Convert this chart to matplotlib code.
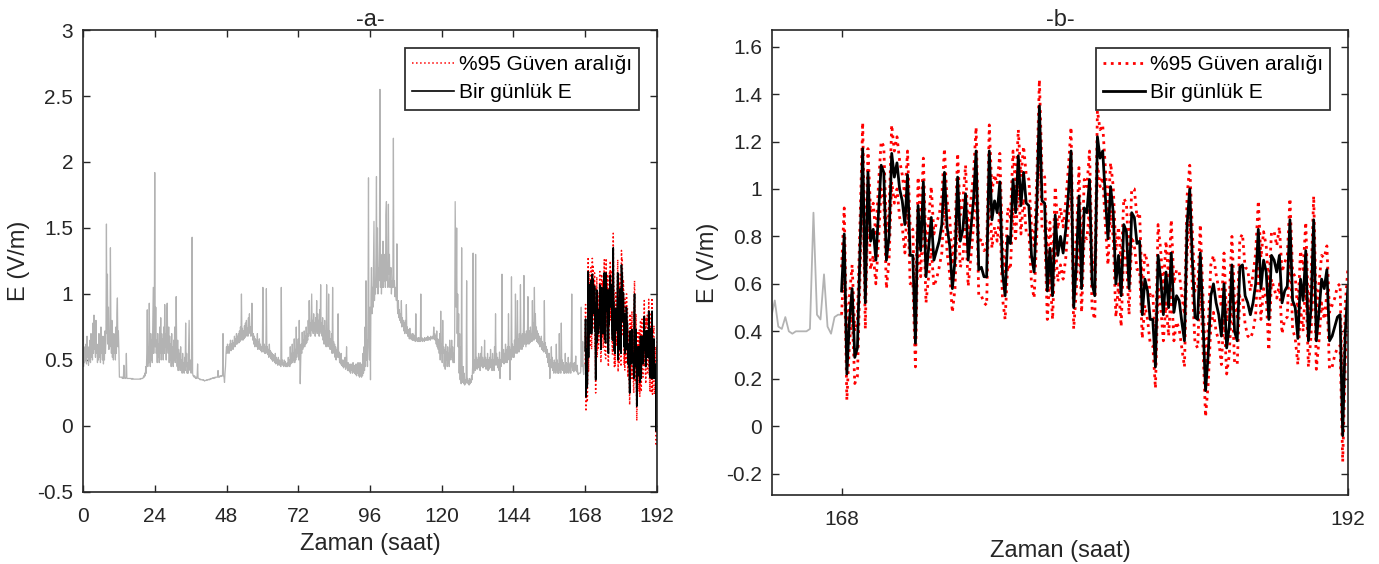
import numpy as np
import matplotlib
matplotlib.use("Agg")
import matplotlib.pyplot as plt

plt.rcParams['font.family'] = ['Liberation Sans', 'DejaVu Sans']

# measured E (V/m), 10-minute samples from hour 0 to hour 168 (one row per hour)
e_measured = [
    2.00, 0.45, 0.55, 0.48, 0.60, 0.50,
    0.62, 0.47, 0.68, 0.52, 0.58, 0.46,
    0.60, 0.50, 0.65, 0.48, 0.70, 0.52,
    0.62, 0.50, 0.78, 0.55, 0.84, 0.58,
    0.66, 0.52, 0.80, 0.55, 0.62, 0.48,
    0.58, 0.50, 0.70, 0.52, 0.64, 0.48,
    0.75, 0.55, 0.62, 0.50, 0.68, 0.47,
    0.60, 0.50, 0.72, 0.55, 0.66, 1.53,
    0.70, 1.15, 0.62, 0.90, 0.58, 0.72,
    0.60, 1.35, 0.75, 0.55, 0.80, 0.52,
    0.62, 0.50, 0.70, 0.55, 0.66, 0.50,
    0.75, 0.55, 0.85, 0.97, 0.60, 0.72,
    0.58, 0.37, 0.37, 0.37, 0.37, 0.37,
    0.37, 0.36, 0.37, 0.36, 0.46, 0.37,
    0.36, 0.36, 0.37, 0.55, 0.36, 0.36,
    0.36, 0.36, 0.36, 0.36, 0.36, 0.36,
    0.36, 0.355, 0.36, 0.355, 0.36, 0.355,
    0.355, 0.355, 0.355, 0.355, 0.355, 0.355,
    0.355, 0.355, 0.355, 0.355, 0.355, 0.355,
    0.355, 0.36, 0.355, 0.36, 0.36, 0.36,
    0.36, 0.37, 0.38, 0.37, 0.40, 0.38,
    0.45, 0.40, 0.55, 0.88, 0.45, 0.60,
    0.48, 0.93, 0.55, 0.45, 0.70, 0.50,
    0.65, 0.48, 0.80, 1.05, 0.55, 0.75,
    1.92, 0.60, 0.90, 0.55, 0.65, 0.48,
    0.70, 0.52, 0.62, 0.48, 0.75, 0.55,
    0.82, 0.50, 0.70, 0.55, 0.66, 0.50,
    0.75, 0.55, 0.92, 0.60, 0.70, 0.50,
    0.85, 0.93, 0.62, 0.55, 0.75, 0.48,
    0.68, 0.50, 0.62, 0.45, 0.70, 0.48,
    0.60, 0.45, 0.65, 0.50, 0.75, 0.48,
    0.55, 0.98, 0.60, 0.45, 0.65, 0.42,
    0.58, 0.45, 0.55, 0.42, 0.60, 0.45,
    0.50, 0.40, 0.55, 0.42, 0.48, 0.40,
    0.52, 0.42, 0.78, 0.45, 0.55, 0.40,
    0.48, 0.40, 0.62, 0.80, 0.45, 0.42,
    0.50, 0.40, 0.45, 1.43, 0.40, 0.38,
    0.38, 0.37, 0.38, 0.37, 0.36, 0.37,
    0.36, 0.37, 0.47, 0.36, 0.36, 0.36,
    0.355, 0.35, 0.355, 0.35, 0.35, 0.35,
    0.35, 0.345, 0.35, 0.345, 0.34, 0.345,
    0.345, 0.345, 0.35, 0.345, 0.35, 0.35,
    0.35, 0.355, 0.35, 0.355, 0.36, 0.355,
    0.36, 0.36, 0.365, 0.36, 0.365, 0.36,
    0.365, 0.37, 0.365, 0.37, 0.37, 0.37,
    0.37, 0.42, 0.37, 0.375, 0.37, 0.38,
    0.375, 0.38, 0.375, 0.38, 0.38, 0.70,
    0.38, 0.37, 0.33, 0.40, 0.45, 0.55,
    0.60, 0.55, 0.62, 0.57, 0.60, 0.55,
    0.62, 0.58, 0.65, 0.57, 0.62, 0.60,
    0.65, 0.58, 0.63, 0.60, 0.68, 0.60,
    0.66, 0.62, 0.70, 0.62, 0.68, 0.63,
    0.70, 0.63, 0.72, 0.64, 0.75, 0.65,
    1.00, 0.68, 0.74, 0.65, 0.72, 0.66,
    0.76, 0.67, 0.78, 0.68, 0.80, 0.70,
    0.74, 0.68, 0.82, 0.70, 0.85, 0.72,
    0.75, 0.68, 0.72, 0.93, 0.70, 0.65,
    0.70, 0.62, 0.68, 0.60, 0.66, 0.62,
    0.65, 0.60, 0.70, 0.58, 0.64, 0.60,
    0.66, 0.58, 0.62, 0.57, 0.60, 0.56,
    0.62, 1.05, 0.60, 0.56, 0.62, 0.55,
    0.60, 0.55, 1.04, 0.56, 0.60, 0.54,
    0.58, 0.52, 0.62, 0.53, 0.57, 0.51,
    0.56, 0.50, 0.55, 0.49, 0.54, 0.50,
    0.53, 0.48, 0.55, 0.47, 0.52, 0.48,
    0.50, 0.46, 0.52, 0.47, 0.50, 0.46,
    0.49, 0.45, 1.05, 0.47, 0.50, 0.46,
    0.48, 0.45, 0.50, 0.46, 0.49, 0.45,
    0.47, 0.45, 0.48, 0.45, 0.52, 0.46,
    0.50, 0.45, 0.60, 0.47, 0.55, 0.48,
    0.62, 0.48, 0.55, 0.50, 0.66, 0.48,
    0.58, 0.50, 0.75, 0.52, 0.60, 0.55,
    0.66, 0.50, 0.80, 0.55, 0.32, 0.50,
    0.62, 0.55, 0.71, 0.58, 0.65, 0.60,
    0.72, 0.60, 0.68, 0.62, 0.75, 0.63,
    0.70, 0.65, 0.80, 0.68, 0.95, 0.70,
    0.78, 0.68, 0.85, 1.00, 0.72, 0.80,
    0.70, 0.85, 0.72, 0.78, 0.68, 0.82,
    0.72, 0.95, 0.70, 0.85, 0.72, 0.80,
    0.68, 0.88, 0.72, 1.07, 0.70, 0.78,
    0.68, 0.82, 0.65, 0.76, 0.62, 0.80,
    0.65, 0.72, 0.60, 1.07, 0.62, 0.70,
    0.60, 1.00, 0.62, 0.72, 0.58, 0.66,
    0.60, 0.70, 0.55, 1.05, 0.58, 0.64,
    0.55, 0.62, 0.52, 0.60, 0.50, 0.58,
    0.52, 0.60, 0.85, 0.52, 0.56, 0.48,
    0.52, 0.47, 0.55, 0.46, 0.50, 0.45,
    0.50, 0.44, 0.48, 0.45, 0.52, 0.43,
    0.47, 0.60, 0.45, 0.42, 0.48, 0.42,
    0.46, 0.41, 0.47, 0.40, 0.45, 0.42,
    0.47, 0.40, 0.48, 0.41, 0.46, 0.40,
    0.45, 0.39, 0.47, 0.38, 0.46, 0.40,
    0.48, 0.38, 0.46, 0.37, 0.48, 0.38,
    0.45, 0.37, 0.47, 0.38, 0.55, 0.40,
    0.60, 0.42, 0.75, 0.45, 1.10, 0.50,
    0.65, 0.45, 0.88, 1.88, 0.60, 0.50,
    0.90, 0.35, 1.00, 1.20, 0.85, 1.05,
    0.90, 1.20, 1.55, 0.95, 1.10, 1.00,
    1.30, 1.89, 1.05, 1.50, 1.00, 1.20,
    1.10, 1.40, 2.55, 1.05, 1.30, 1.00,
    1.15, 1.05, 1.40, 1.05, 1.20, 1.10,
    1.30, 1.05, 1.60, 1.70, 1.10, 1.20,
    1.05, 1.68, 1.15, 1.30, 1.05, 1.10,
    1.20, 1.00, 1.10, 1.05, 1.15, 2.18,
    1.05, 1.10, 0.98, 1.05, 1.00, 0.95,
    1.38, 0.90, 0.85, 0.95, 0.82, 0.88,
    0.80, 0.85, 0.78, 0.95, 0.75, 0.82,
    0.76, 0.80, 0.72, 0.78, 0.70, 0.80,
    0.72, 0.92, 0.70, 0.75, 0.68, 0.73,
    0.70, 0.66, 0.74, 0.66, 0.70, 0.66,
    0.68, 0.65, 0.70, 0.65, 0.69, 0.65,
    0.67, 0.64, 0.85, 0.65, 0.67, 0.64,
    0.66, 0.64, 0.67, 0.64, 0.66, 0.64,
    1.00, 0.65, 0.67, 0.64, 0.66, 0.65,
    0.66, 0.64, 0.67, 0.65, 0.66, 0.65,
    0.67, 0.65, 0.68, 0.65, 0.67, 0.66,
    0.67, 0.65, 0.68, 0.66, 0.67, 0.66,
    0.68, 0.66, 0.75, 0.66, 0.70, 0.65,
    0.68, 0.62, 0.72, 0.60, 0.66, 0.58,
    0.65, 0.55, 0.70, 0.50, 0.87, 0.55,
    0.62, 0.48, 0.80, 0.55, 0.60, 0.45,
    0.58, 0.43, 0.62, 0.50, 0.56, 0.45,
    0.60, 0.48, 0.55, 0.45, 0.65, 0.50,
    0.58, 0.52, 0.65, 0.50, 0.60, 0.48,
    0.55, 0.48, 0.70, 1.70, 1.30, 0.90,
    1.50, 0.70, 1.00, 0.60, 0.85, 0.40,
    0.70, 0.35, 0.60, 0.32, 1.35, 0.40,
    0.33, 0.45, 0.32, 0.40, 0.31, 0.35,
    0.32, 0.38, 1.10, 0.33, 0.36, 0.32,
    0.34, 0.31, 0.36, 0.32, 0.35, 0.33,
    0.38, 0.35, 0.45, 1.31, 0.40, 0.45,
    0.50, 0.42, 1.30, 0.45, 0.52, 0.43,
    0.50, 0.44, 0.55, 0.45, 0.52, 0.42,
    0.55, 0.46, 0.60, 0.45, 0.52, 0.44,
    0.50, 0.45, 0.65, 0.47, 0.52, 0.43,
    0.50, 0.44, 0.55, 0.42, 0.50, 0.43,
    0.52, 0.45, 0.58, 0.44, 0.50, 0.42,
    0.55, 0.45, 0.50, 0.42, 0.60, 0.46,
    0.85, 0.48, 0.55, 0.46, 0.52, 0.44,
    0.50, 0.42, 0.56, 0.36, 0.50, 0.45,
    0.55, 1.15, 0.50, 0.48, 0.58, 0.47,
    0.55, 0.48, 0.62, 0.50, 0.58, 0.48,
    0.60, 0.50, 0.85, 0.52, 0.60, 0.35,
    0.58, 0.50, 1.13, 0.55, 0.62, 0.52,
    0.60, 0.52, 0.65, 0.55, 1.00, 0.58,
    0.65, 0.55, 0.95, 0.58, 0.66, 0.56,
    0.70, 0.58, 1.07, 0.60, 0.68, 0.58,
    0.70, 0.60, 0.75, 1.14, 0.62, 0.70,
    0.65, 0.60, 0.72, 0.62, 0.68, 0.98,
    0.66, 0.62, 0.72, 0.63, 0.75, 0.65,
    0.70, 0.64, 0.95, 0.66, 0.78, 0.65,
    1.05, 0.68, 0.85, 0.66, 0.75, 0.64,
    0.72, 0.63, 0.70, 0.62, 0.68, 0.60,
    0.66, 0.60, 0.68, 0.58, 0.64, 0.57,
    0.62, 0.56, 0.95, 0.58, 0.63, 0.55,
    0.60, 0.52, 0.58, 0.48, 0.55, 0.45,
    0.55, 0.36, 0.50, 0.45, 0.60, 0.44,
    0.52, 0.42, 0.48, 0.40, 0.50, 0.42,
    0.48, 0.40, 0.62, 0.42, 0.50, 0.40,
    0.47, 0.40, 0.70, 0.42, 0.48, 0.40,
    0.78, 0.43, 0.50, 0.42, 0.48, 0.40,
    0.46, 0.40, 0.55, 0.41, 0.48, 0.40,
    0.47, 0.41, 0.52, 0.40, 0.46, 0.42,
    0.48, 0.40, 0.55, 1.00, 0.45, 0.42,
    0.47, 0.41, 0.48, 0.42, 0.46, 0.53,
    0.42, 0.41, 0.46, 0.40, 0.39, 0.40,
    0.40, 0.40, 0.40, 0.41, 0.90, 0.47,
    0.45, 0.64, 0.42, 0.39, 0.46, 0.47,
    0.47,
]

# one-day E for hours 168..192, 8 samples per hour
e_day = [
    0.57, 0.81, 0.22, 0.45, 0.58, 0.29, 0.33, 0.75,
    1.17, 0.52, 1.07, 0.78, 0.83, 0.70, 0.90, 1.10,
    1.07, 0.70, 0.80, 1.15, 1.05, 1.11, 1.00, 0.95,
    0.85, 1.06, 0.72, 0.72, 0.35, 0.93, 0.74, 1.03,
    0.63, 0.75, 0.88, 0.70, 0.74, 0.78, 0.85, 1.07,
    0.84, 0.76, 0.58, 0.70, 1.05, 0.78, 0.83, 0.98,
    0.70, 0.83, 0.95, 1.16, 0.66, 0.67, 0.63, 0.63,
    1.16, 0.87, 0.95, 0.90, 1.03, 0.65, 0.55, 0.80,
    0.77, 1.04, 0.90, 1.14, 0.93, 1.07, 0.94, 0.93,
    0.72, 0.65, 0.92, 1.35, 0.95, 0.94, 0.57, 0.75,
    0.55, 0.89, 0.72, 0.80, 0.73, 0.83, 0.98, 1.16,
    0.50, 0.68, 0.97, 0.58, 0.92, 0.90, 1.04, 0.60,
    0.55, 1.22, 1.13, 1.16, 0.97, 0.79, 1.01, 0.90,
    0.60, 0.72, 0.55, 0.85, 0.82, 0.58, 0.90, 0.88,
    0.77, 0.78, 0.47, 0.62, 0.57, 0.45, 0.45, 0.25,
    0.72, 0.62, 0.47, 0.65, 0.50, 0.73, 0.48, 0.55,
    0.53, 0.44, 0.36, 0.85, 1.00, 0.70, 0.46, 0.45,
    0.73, 0.45, 0.15, 0.30, 0.55, 0.60, 0.52, 0.47,
    0.38, 0.60, 0.33, 0.42, 0.68, 0.40, 0.36, 0.67,
    0.68, 0.55, 0.52, 0.47, 0.52, 0.60, 0.83, 0.58,
    0.70, 0.65, 0.45, 0.72, 0.70, 0.65, 0.72, 0.52,
    0.57, 0.59, 0.87, 0.53, 0.50, 0.37, 0.62, 0.53,
    0.74, 0.36, 0.50, 0.87, 0.36, 0.48, 0.62, 0.58,
    0.66, 0.36, 0.38, 0.42, 0.46, 0.47, -0.04, 0.40,
    0.59,
]

# half width of the 95% confidence band around e_day
ci_half = [
    0.10, 0.11, 0.11, 0.10, 0.10, 0.11, 0.12, 0.11,
    0.11, 0.11, 0.10, 0.12, 0.11, 0.10, 0.12, 0.10,
    0.11, 0.12, 0.10, 0.12, 0.11, 0.11, 0.12, 0.11,
    0.12, 0.10, 0.12, 0.11, 0.10, 0.12, 0.11, 0.10,
    0.11, 0.12, 0.13, 0.11, 0.12, 0.11, 0.12, 0.10,
    0.11, 0.12, 0.10, 0.12, 0.10, 0.11, 0.12, 0.12,
    0.11, 0.12, 0.11, 0.10, 0.11, 0.12, 0.11, 0.12,
    0.11, 0.12, 0.11, 0.12, 0.12, 0.11, 0.10, 0.12,
    0.11, 0.12, 0.11, 0.11, 0.12, 0.11, 0.12, 0.11,
    0.12, 0.11, 0.12, 0.11, 0.12, 0.11, 0.12, 0.11,
    0.10, 0.12, 0.11, 0.12, 0.11, 0.12, 0.11, 0.10,
    0.09, 0.11, 0.12, 0.10, 0.12, 0.11, 0.12, 0.11,
    0.10, 0.11, 0.12, 0.11, 0.12, 0.11, 0.10, 0.11,
    0.14, 0.12, 0.13, 0.11, 0.12, 0.11, 0.10, 0.12,
    0.11, 0.12, 0.10, 0.11, 0.12, 0.10, 0.11, 0.09,
    0.13, 0.12, 0.11, 0.13, 0.12, 0.14, 0.12, 0.11,
    0.12, 0.11, 0.11, 0.12, 0.10, 0.12, 0.11, 0.12,
    0.12, 0.11, 0.11, 0.12, 0.13, 0.12, 0.12, 0.11,
    0.12, 0.13, 0.11, 0.12, 0.12, 0.13, 0.10, 0.12,
    0.13, 0.12, 0.14, 0.10, 0.12, 0.13, 0.12, 0.13,
    0.12, 0.11, 0.13, 0.10, 0.12, 0.11, 0.12, 0.13,
    0.12, 0.13, 0.09, 0.12, 0.13, 0.11, 0.12, 0.13,
    0.12, 0.11, 0.12, 0.10, 0.12, 0.12, 0.10, 0.13,
    0.10, 0.12, 0.13, 0.12, 0.13, 0.13, 0.11, 0.12,
    0.08,
]

t_measured = np.arange(len(e_measured)) / 6.0
t_day = 168 + np.arange(len(e_day)) / 8.0
e_day_arr = np.array(e_day)
ci_upper = e_day_arr + np.array(ci_half)
ci_lower = e_day_arr - np.array(ci_half)

GREY = '#b3b3b3'
AXC = '#262626'

fig = plt.figure(figsize=(13.79, 5.64), dpi=100)
ax1 = fig.add_axes([0.0602, 0.1277, 0.4162, 0.8191])
ax2 = fig.add_axes([0.5598, 0.1223, 0.4177, 0.8245])


def style_axes(ax):
    ax.tick_params(direction='in', length=5, width=1, top=True, right=True,
                   labelsize=15, colors=AXC, pad=7)
    ax.tick_params(axis='x', pad=11)
    for s in ax.spines.values():
        s.set_color(AXC)
        s.set_linewidth(1.2)
    ax.set_xlabel('Zaman (saat)', fontsize=17, color=AXC, labelpad=5)
    ax.set_ylabel('E (V/m)', fontsize=17, color=AXC, labelpad=5)


def add_legend(ax):
    leg = ax.legend(loc='upper right', fontsize=15, frameon=True, fancybox=False,
                    edgecolor='black', borderpad=0.35, handlelength=2.0,
                    handletextpad=0.25, labelspacing=0.45, borderaxespad=0.85)
    leg.get_frame().set_linewidth(1.3)


# -a- full record
ax1.plot(t_measured, e_measured, color=GREY, lw=0.9)
ax1.plot(t_day, ci_upper, color='red', ls=':', lw=1.1, label='%95 Güven aralığı')
ax1.plot(t_day, ci_lower, color='red', ls=':', lw=1.1)
ax1.plot(t_day, e_day, color='black', lw=1.2, label='Bir günlük E')
ax1.set_xlim(0, 192)
ax1.set_ylim(-0.5, 3)
ax1.set_xticks(np.arange(0, 193, 24))
ax1.set_yticks(np.arange(-0.5, 3.01, 0.5))
ax1.set_yticklabels(['-0.5', '0', '0.5', '1', '1.5', '2', '2.5', '3'])
ax1.set_title('-a-', fontsize=17, color=AXC, pad=3)
style_axes(ax1)
add_legend(ax1)

# -b- zoom on the last day
ax2.plot(t_measured, e_measured, color=GREY, lw=1.3)
ax2.plot(t_day, ci_upper, color='red', ls=':', lw=2.0, label='%95 Güven aralığı')
ax2.plot(t_day, ci_lower, color='red', ls=':', lw=2.0)
ax2.plot(t_day, e_day, color='black', lw=2.0, label='Bir günlük E')
ax2.set_xlim(164.7, 192)
ax2.set_ylim(-0.29, 1.67)
ax2.set_xticks([168, 192])
ax2.set_yticks(np.arange(-0.2, 1.61, 0.2))
ax2.set_yticklabels(['-0.2', '0', '0.2', '0.4', '0.6', '0.8', '1', '1.2', '1.4', '1.6'])
ax2.set_title('-b-', fontsize=17, color=AXC, pad=3)
style_axes(ax2)
ax2.xaxis.labelpad = 8
add_legend(ax2)

fig.savefig('out.png', dpi=100)
